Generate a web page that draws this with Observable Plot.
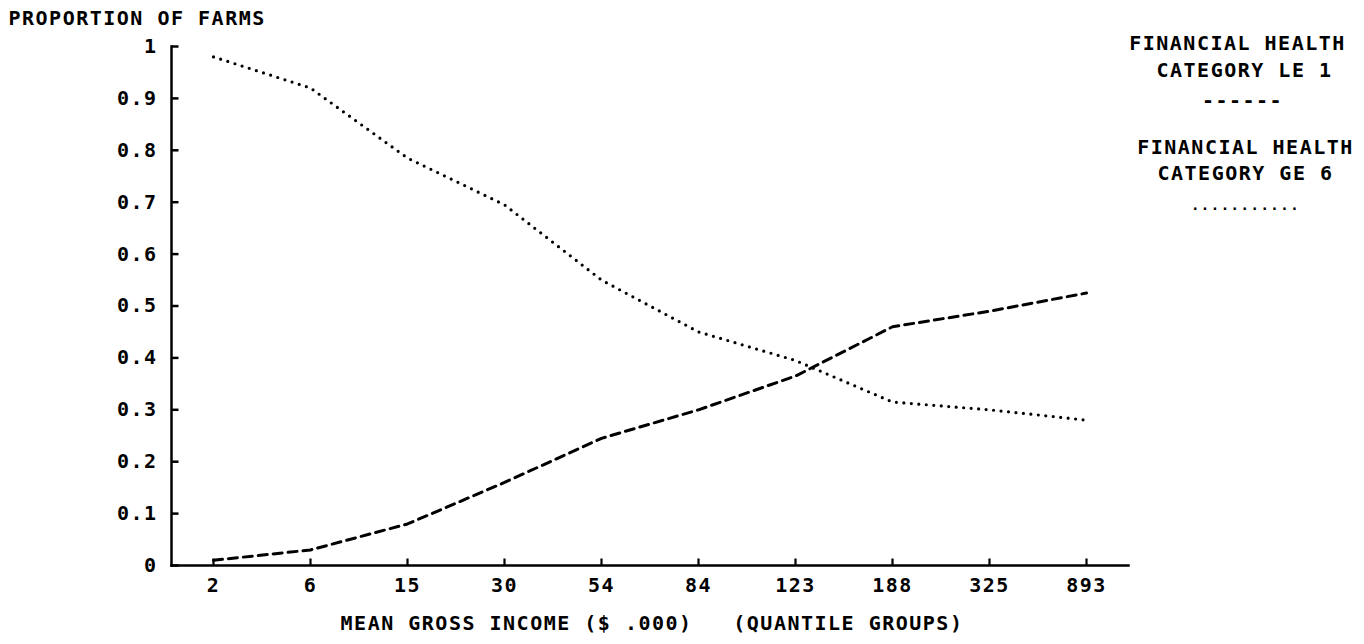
<!DOCTYPE html>
<html><head><meta charset="utf-8">
<script src="https://cdn.jsdelivr.net/npm/d3@7"></script>
<script src="https://cdn.jsdelivr.net/npm/@observablehq/plot@0.6"></script>
<style>html,body{margin:0;padding:0;background:#fff;} svg{display:block;}</style>
</head><body><div id="chart"></div>
<script>
// ---- data ----
const incomeGroups = ["2", "6", "15", "30", "54", "84", "123", "188", "325", "893"];
const le1 = [0.01, 0.03, 0.08, 0.16, 0.245, 0.30, 0.365, 0.46, 0.49, 0.525];   // dashed
const ge6 = [0.98, 0.92, 0.785, 0.695, 0.55, 0.45, 0.395, 0.315, 0.30, 0.28];  // dotted
const yTickValues = [0, 0.1, 0.2, 0.3, 0.4, 0.5, 0.6, 0.7, 0.8, 0.9, 1];
const yTickLabels = ["0", "0.1", "0.2", "0.3", "0.4", "0.5", "0.6", "0.7", "0.8", "0.9", "1"];
const yTitle = "PROPORTION OF FARMS";
const xTitle = "MEAN GROSS INCOME ($ .000)   (QUANTILE GROUPS)";
const legendLE = ["FINANCIAL HEALTH", "CATEGORY LE 1"];
const legendGE = ["FINANCIAL HEALTH", "CATEGORY GE 6"];

const rows = incomeGroups.map((g, i) => ({group: g, le1: le1[i], ge6: ge6[i]}));
const yLabelMap = new Map(yTickValues.map((v, i) => [v, yTickLabels[i]]));

const FONT = "DejaVu Sans Mono";
const tickRight = {draw(c) { c.moveTo(0, 0); c.lineTo(7, 0); }};
const tickUp = {draw(c) { c.moveTo(0, 0); c.lineTo(0, -7); }};
const txt = {fontSize: 20, fontWeight: "bold", fill: "#000"};
const leg = {frameAnchor: "top-right", textAnchor: "middle", lineAnchor: "middle", ...txt};

const chart = Plot.plot({
  width: 1364, height: 644,
  marginLeft: 171, marginRight: 236, marginTop: 46, marginBottom: 79,
  style: {fontFamily: FONT, fontSize: "20px", fontWeight: "bold", letterSpacing: "1.5px", background: "#fff", color: "#000"},
  x: {type: "point", domain: incomeGroups, padding: 0.4},
  y: {domain: [0, 1]},
  marks: [
    Plot.axisY(yTickValues, {tickSize: 0, tickPadding: 14, tickFormat: d => yLabelMap.get(d), label: null, fontSize: 20}),
    Plot.axisX({tickSize: 0, tickPadding: 12, label: null, fontSize: 20}),
    Plot.frame({anchor: "left", stroke: "#000", strokeWidth: 2.5}),
    Plot.frame({anchor: "bottom", stroke: "#000", strokeWidth: 2.5}),
    Plot.dot(yTickValues, {y: d => d, frameAnchor: "left", symbol: tickRight, r: 4, stroke: "#000", strokeWidth: 2.5, fill: "none"}),
    Plot.dot(incomeGroups, {x: d => d, frameAnchor: "bottom", symbol: tickUp, r: 4, stroke: "#000", strokeWidth: 2.2, fill: "none"}),
    Plot.line(rows, {x: "group", y: "le1", stroke: "#000", strokeWidth: 3, strokeDasharray: "9,6"}),
    Plot.line(rows, {x: "group", y: "ge6", stroke: "#000", strokeWidth: 3.2, strokeDasharray: "0,7.5", strokeLinecap: "round"}),
    Plot.text([yTitle], {text: d => d, frameAnchor: "top-left", dx: -163, dy: -28, textAnchor: "start", lineAnchor: "middle", ...txt}),
    Plot.text([xTitle], {text: d => d, frameAnchor: "bottom", dx: 2, dy: 58, lineAnchor: "middle", ...txt}),
    Plot.text([legendLE[0]], {text: d => d, dx: 109, dy: -3, ...leg}),
    Plot.text([legendLE[1]], {text: d => d, dx: 116, dy: 24, ...leg}),
    Plot.text(["------"], {text: d => d, dx: 114, dy: 54, ...leg}),
    Plot.text([legendGE[0]], {text: d => d, dx: 117, dy: 101, ...leg}),
    Plot.text([legendGE[1]], {text: d => d, dx: 117, dy: 127, ...leg}),
    Plot.text(["..........."], {text: d => d, dx: 117, dy: 159, ...leg, fontSize: 14})
  ]
});
document.getElementById("chart").appendChild(chart);
</script>
</body></html>
